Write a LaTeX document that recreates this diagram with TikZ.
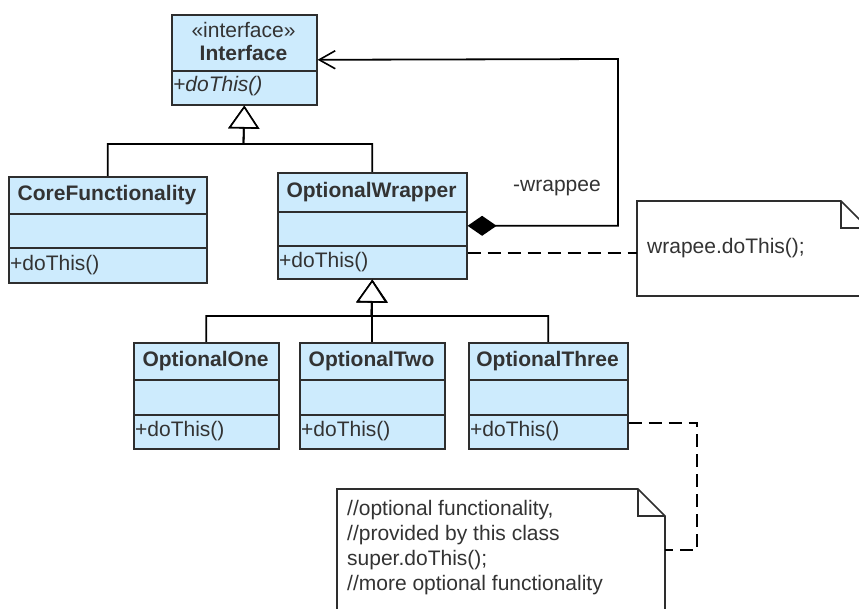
\documentclass[tikz,border=0pt]{standalone}
\usepackage{fontspec}
\setmainfont{Liberation Sans}
\usetikzlibrary{arrows.meta}
\definecolor{cfill}{HTML}{CDEBFD}
\definecolor{ink}{HTML}{2E2E2E}
\definecolor{txt}{HTML}{333333}
\newcommand\umlclass[8]{%
  \node[cls, minimum width={(#4)-(#2)}, minimum height={(#5)-(#3)}] (#1) at (#2,#3) {};
  \draw[divl] (#2,#6) -- (#4,#6) (#2,#7) -- (#4,#7);
  \node[clsname] (#1-name) at ({(#2+#4)/2},{(#3+#6)/2}) {#8};
  \node[clsop] (#1-op) at ({#2+1},{(#7+#5)/2}) {+doThis()};
}
\begin{document}
\begin{tikzpicture}[x=1pt,y=-1pt,
  font=\fontsize{21}{25}\selectfont,
  cls/.style={draw=ink, fill=cfill, line width=1.6pt, inner sep=0pt, anchor=north west},
  divl/.style={draw=ink, line width=1.6pt},
  clsname/.style={font=\fontsize{21}{25}\selectfont\bfseries, text=txt, inner sep=0pt},
  clsop/.style={text=txt, inner sep=1pt, anchor=west},
  plain/.style={text=txt, inner sep=0pt},
  conn/.style={draw=black, line width=1.8pt},
  gen/.style={conn, -{Triangle[open, fill=white, length=23pt, width=31pt, line width=1.6pt]}},
  comp/.style={conn, {Diamond[length=29pt, width=20pt]}-{Straight Barb[length=16pt, width=18pt, line width=1.6pt]}},
  dashl/.style={conn, line width=1.6pt, dash pattern=on 13pt off 7pt},
  notebox/.style={draw=none, inner sep=0pt, anchor=north west},
  noteline/.style={draw=ink, line width=1.6pt, fill=white}
]
\useasboundingbox (0,0) rectangle (859,609);
\clip (0,0) rectangle (859,609);
\fill[white] (0,0) rectangle (859,609);

% Interface
\node[cls, minimum width=145, minimum height=90] (iface) at (171,14) {};
\draw[divl] (171,71) -- (316,71);
\node[plain] (iface-st) at (243.5,30) {«interface»};
\node[clsname] (iface-name) at (243.5,53) {Interface};
\node[clsop] (iface-op) at (172,86) {\itshape +doThis()};

% classes
\umlclass{core}{8}{176}{206}{282}{214}{248}{CoreFunctionality}
\umlclass{ow}{277}{172}{466}{278}{212}{246}{OptionalWrapper}
\umlclass{o1}{133}{342}{278}{448}{380}{415}{OptionalOne}
\umlclass{o2}{299}{342}{444}{448}{380}{415}{OptionalTwo}
\umlclass{o3}{468}{342}{627}{448}{380}{415}{OptionalThree}

% notes
\node[notebox, minimum width=231, minimum height=95] (note1) at (637,201) {};
\draw[noteline] (637,201) -- (841,201) -- (868,228) -- (868,296) -- (637,296) -- cycle;
\draw[noteline, fill=none] (841,201) -- (841,228) -- (868,228);
\node[plain, anchor=west] (note1-text) at (647,248) {wrapee.doThis();};

\node[notebox, minimum width=328, minimum height=160] (note2) at (337,489) {};
\draw[noteline] (337,489) -- (638,489) -- (665,516) -- (665,649) -- (337,649) -- cycle;
\draw[noteline, fill=none] (638,489) -- (638,516) -- (665,516);
\node[plain, anchor=north west, align=left, font=\fontsize{21}{25}\selectfont] (note2-text) at (347,500)
  {//optional functionality,\\//provided by this class\\super.doThis();\\//more optional functionality};

% generalizations
\coordinate (j1) at (243.5,144);
\coordinate (j2) at (371.5,316);
\draw[gen] (core.north) |- (j1) -- (iface.south);
\draw[gen] (ow.north) |- (j1) -- (iface.south);
\draw[gen] (o1.north) |- (j2) -- (ow.south);
\draw[gen] (o2.north) -- (ow.south);
\draw[gen] (o3.north) |- (j2) -- (ow.south);

% composition
\coordinate (bend) at (618,59);
\draw[comp] (ow.east) -| (bend) -- (iface.east);
\node[plain] (wlab) at (557,188) {-wrappee};

% note anchors
\draw[dashl] ([yshift=-27pt]ow.east) -- ([yshift=-27pt]ow.east -| note1.west);
\coordinate (d2) at (697,550);
\draw[dashl] ([yshift=-27pt]o3.east) -| (d2) -- (note2.east |- d2);
\end{tikzpicture}
\end{document}
